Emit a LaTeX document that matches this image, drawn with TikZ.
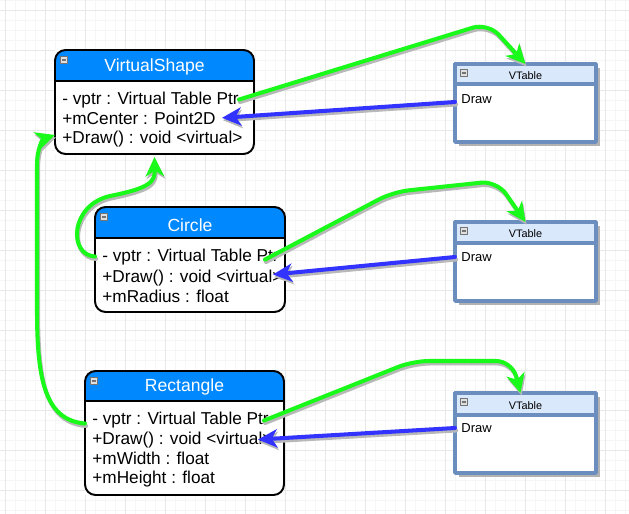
\documentclass[tikz,border=0pt]{standalone}
\usepackage{fontspec}
\setmainfont{Liberation Sans}
\usepackage{tikz}
\usetikzlibrary{calc}
\usetikzlibrary{arrows.meta}
\usetikzlibrary{shadows}
\definecolor{hdrblue}{RGB}{0,136,255}
\definecolor{vthdr}{RGB}{218,232,252}
\definecolor{vtline}{RGB}{108,142,191}
\definecolor{ptrgreen}{RGB}{26,250,26}
\definecolor{drawblue}{RGB}{51,51,255}
\definecolor{gridminor}{RGB}{246,246,246}
\definecolor{gridmajor}{RGB}{232,232,232}

\begin{document}
\begin{tikzpicture}[line cap=round,line join=round,>={Stealth[length=11pt,width=10.5pt,inset=3.2pt]},x=0.02cm,y=-0.02cm,
  classbox/.style={fill=white,inner sep=0pt,outer sep=0pt},
  boxline/.style={draw=black,line width=1.1pt,rounded corners=6pt},
  sepline/.style={draw=black,line width=0.6pt},
  vtbox/.style={fill=white,draw=vtline,line width=2pt,inner sep=0pt,outer sep=0pt,minimum width=2.82cm,
    drop shadow={shadow xshift=2.2pt,shadow yshift=-2.2pt,fill=black!30,opacity=1}},
  minusbox/.style={draw=black!55,fill=black!12,line width=0.4pt,minimum size=0.15cm,inner sep=0pt,
    path picture={\draw[line width=0.7pt,line cap=butt] ([xshift=1pt]path picture bounding box.west) -- ([xshift=-1pt]path picture bounding box.east);}},
  classtitle/.style={text=white,font=\fontsize{10pt}{12pt}\selectfont,inner sep=0pt},
  classrow/.style={anchor=base west,text=black,font=\fontsize{9.8pt}{11pt}\selectfont,inner sep=0pt},
  vttitle/.style={text=black,font=\fontsize{6.2pt}{7pt}\selectfont,inner sep=0pt},
  vtrow/.style={anchor=west,text=black,font=\fontsize{7.4pt}{9pt}\selectfont,inner sep=0pt},
  ptrline/.style={->,draw=ptrgreen,line width=2.3pt,rounded corners=9pt,
    preaction={draw=black!28,line width=2.3pt,transform canvas={shift={(0.6pt,-1.4pt)}}}},
  callline/.style={->,draw=drawblue,line width=2.3pt,
    preaction={draw=black!28,line width=2.3pt,transform canvas={shift={(0.6pt,-1.4pt)}}}},
  baseline/.style={->,draw=ptrgreen,line width=2.3pt,
    preaction={draw=black!28,line width=2.3pt,transform canvas={shift={(0.6pt,-1.4pt)}}}},
  minorgrid/.style={draw=gridminor,line width=0.4pt},
  majorgrid/.style={draw=gridmajor,line width=0.5pt}]
  \useasboundingbox[fill=white] (0,0) rectangle (629,514);
  % grid
  \foreach \x in {5,15,...,625} \draw[minorgrid] (\x,0) -- (\x,514);
  \foreach \y in {0,10,...,510} \draw[minorgrid] (0,\y) -- (629,\y);
  \foreach \x in {5,45,...,625} \draw[majorgrid] (\x,0) -- (\x,514);
  \foreach \y in {10,50,...,510} \draw[majorgrid] (0,\y) -- (629,\y);

  % VirtualShape
  \node[classbox,minimum width=3.98cm,minimum height=2.08cm] (vs) at (154.5,102) {};
  \fill[hdrblue] ($(vs.north west)+(0,31)$) [rounded corners=6pt] -- (vs.north west) -- (vs.north east) [sharp corners] -- ($(vs.north east)+(0,31)$) -- cycle;
  \draw[sepline] ($(vs.north west)+(0,31)$) -- ($(vs.north east)+(0,31)$);
  \draw[boxline] (vs.north west) rectangle (vs.south east);
  \node[minusbox] (vsmin) at ($(vs.north west)+(9,10)$) {};
  \node[classtitle] (vstitle) at (154.5,67) {VirtualShape};
  \node[classrow] (vsvptr) at (62,104) {- vptr : Virtual Table Ptr};
  \node[classrow] (vscenter) at (62,124) {+mCenter : Point2D};
  \node[classrow] (vsdraw) at (62,143) {+Draw() : void <virtual>};

  % Circle
  \node[classbox,minimum width=3.8cm,minimum height=2.1cm] (circ) at (190,259.5) {};
  \fill[hdrblue] ($(circ.north west)+(0,31)$) [rounded corners=6pt] -- (circ.north west) -- (circ.north east) [sharp corners] -- ($(circ.north east)+(0,31)$) -- cycle;
  \draw[sepline] ($(circ.north west)+(0,31)$) -- ($(circ.north east)+(0,31)$);
  \draw[boxline] (circ.north west) rectangle (circ.south east);
  \node[minusbox] (cmin) at ($(circ.north west)+(9,10)$) {};
  \node[classtitle] (ctitle) at (190,225) {Circle};
  \node[classrow] (cvptr) at (102,261) {- vptr : Virtual Table Ptr};
  \node[classrow] (cdraw) at (102,282) {+Draw() : void <virtual>};
  \node[classrow] (cradius) at (102,302) {+mRadius : float};

  % Rectangle
  \node[classbox,minimum width=3.98cm,minimum height=2.48cm] (rect) at (184.5,433) {};
  \fill[hdrblue] ($(rect.north west)+(0,30)$) [rounded corners=6pt] -- (rect.north west) -- (rect.north east) [sharp corners] -- ($(rect.north east)+(0,30)$) -- cycle;
  \draw[sepline] ($(rect.north west)+(0,30)$) -- ($(rect.north east)+(0,30)$);
  \draw[boxline] (rect.north west) rectangle (rect.south east);
  \node[minusbox] (rmin) at ($(rect.north west)+(9,10)$) {};
  \node[classtitle] (rtitle) at (184.5,387) {Rectangle};
  \node[classrow] (rvptr) at (92,424) {- vptr : Virtual Table Ptr};
  \node[classrow] (rdraw) at (92,444) {+Draw() : void <virtual>};
  \node[classrow] (rwidth) at (92,464) {+mWidth : float};
  \node[classrow] (rheight) at (92,483) {+mHeight : float};

  % VTables
  \node[vtbox,minimum height=1.56cm] (vt1) at (525.5,103) {};
  \filldraw[fill=vthdr,draw=vtline,line width=2pt] (vt1.north west) rectangle ($(vt1.north east)+(0,20)$);
  \node[minusbox] (vt1min) at ($(vt1.north west)+(9,9)$) {};
  \node[vttitle] (vt1title) at ($(vt1.north)+(0,12)$) {VTable};
  \node[vtrow] (vt1draw) at ($(vt1.north west)+(6,35)$) {Draw};

  \node[vtbox,minimum height=1.58cm] (vt2) at (525.5,261.5) {};
  \filldraw[fill=vthdr,draw=vtline,line width=2pt] (vt2.north west) rectangle ($(vt2.north east)+(0,21)$);
  \node[minusbox] (vt2min) at ($(vt2.north west)+(9,9)$) {};
  \node[vttitle] (vt2title) at ($(vt2.north)+(0,12)$) {VTable};
  \node[vtrow] (vt2draw) at ($(vt2.north west)+(6,35)$) {Draw};

  \node[vtbox,minimum height=1.6cm] (vt3) at (525.5,433) {};
  \filldraw[fill=vthdr,draw=vtline,line width=2pt] (vt3.north west) rectangle ($(vt3.north east)+(0,22)$);
  \node[minusbox] (vt3min) at ($(vt3.north west)+(9,9)$) {};
  \node[vttitle] (vt3title) at ($(vt3.north)+(0,13)$) {VTable};
  \node[vtrow] (vt3draw) at ($(vt3.north west)+(6,35)$) {Draw};

  % vptr -> vtable
  \draw[ptrline] ($(vs.east |- vsvptr.east)+(-15,0)$) -- (488,23) -- (vt1.north);
  \draw[ptrline] ($(circ.east |- cvptr.east)+(-20,3)$) -- (393,192) -- (497,181) -- (vt2.north);
  \draw[ptrline] ($(rect.east |- rvptr.east)+(-20,1)$) -- (413,361) -- (512,361) -- ($(vt3.north)+(-5,0)$);

  % vtable -> draw
  \draw[callline] ($(vt1.west |- vt1draw.west)+(0,3)$) -- ($(vscenter.east)+(6,0)$);
  \draw[callline] ($(vt2.west |- vt2draw.west)+(0,0)$) -- ($(circ.east |- cdraw.east)+(-12,-3)$);
  \draw[callline] ($(vt3.west |- vt3draw.west)$) -- ($(rect.east |- rdraw.east)+(-26,0)$);

  % inheritance
  \draw[baseline] (circ.west |- cvptr.west) .. controls (68,255) and (70,205) .. (110,196) .. controls (150,188) and (155,182) .. ($(vs.south)+(0,3)$);
  \draw[baseline] ($(rect.west |- rvptr.west)+(0,4)$) .. controls (45,420) and (37,380) .. (37,310) -- (37,165) .. controls (37,148) and (43,139) .. ($(vs.south west)+(0,-19)$);
\end{tikzpicture}
\end{document}
